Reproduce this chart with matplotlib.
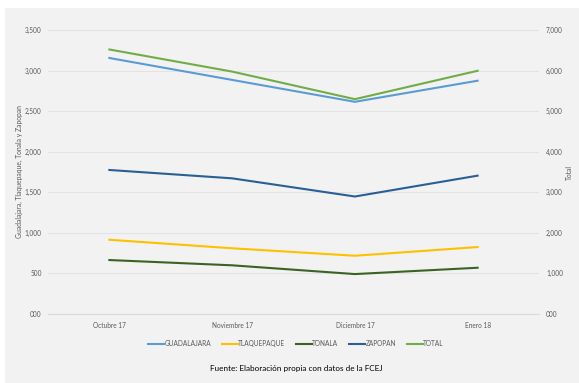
import matplotlib
matplotlib.use("Agg")
import matplotlib.pyplot as plt
from matplotlib.patches import Rectangle
from matplotlib.ticker import FuncFormatter, MultipleLocator

# Datos por municipio (eje izquierdo) y total (eje derecho)
meses = ["Octubre 17", "Noviembre 17", "Diciembre 17", "Enero 18"]
guadalajara = [3155, 2885, 2615, 2875]
tlaquepaque = [915, 810, 718, 825]
tonala = [665, 600, 492, 570]
zapopan = [1775, 1672, 1448, 1705]
total = [6520, 5975, 5295, 5995]

colores = {
    "GUADALAJARA": "#5B9BD5",
    "TLAQUEPAQUE": "#FFC000",
    "TONALA": "#3B6326",
    "ZAPOPAN": "#2A5F96",
    "TOTAL": "#70AD47",
}

plt.rcParams["font.family"] = ["Lato", "DejaVu Sans"]

W, H = 579, 383
fig = plt.figure(figsize=(W / 100, H / 100), dpi=100, facecolor="white")
fig.patches.append(Rectangle((5 / W, 0), 1, (H - 8) / H, transform=fig.transFigure,
                             facecolor="#f2f2f2", edgecolor="none", zorder=-5))

ax = fig.add_axes([48 / W, 69 / H, (539 - 48) / W, (314 - 30) / H])
ax.set_facecolor("none")
ax2 = ax.twinx()

x = range(len(meses))
lw = 1.5
l1, = ax.plot(x, guadalajara, color=colores["GUADALAJARA"], lw=lw, label="GUADALAJARA")
l2, = ax.plot(x, tlaquepaque, color=colores["TLAQUEPAQUE"], lw=lw, label="TLAQUEPAQUE")
l3, = ax.plot(x, tonala, color=colores["TONALA"], lw=lw, label="TONALA")
l4, = ax.plot(x, zapopan, color=colores["ZAPOPAN"], lw=lw, label="ZAPOPAN")
l5, = ax2.plot(x, total, color=colores["TOTAL"], lw=lw, label="TOTAL")

ax.set_xlim(-0.5, len(meses) - 0.5)
ax.set_ylim(0, 3500)
ax2.set_ylim(0, 7000)
ax.yaxis.set_major_locator(MultipleLocator(500))
ax2.yaxis.set_major_locator(MultipleLocator(1000))

fmt = FuncFormatter(lambda v, p: "000" if v == 0 else f"{v:,.0f}")
ax.yaxis.set_major_formatter(fmt)
ax2.yaxis.set_major_formatter(fmt)

ax.set_xticks(list(x))
ax.set_xticklabels(meses)
ax.grid(axis="y", color="#e3e3e3", lw=0.8)
ax.set_axisbelow(True)

for a in (ax, ax2):
    for s in a.spines.values():
        s.set_visible(False)
    a.tick_params(length=0, labelsize=4.7, colors="#595959")
ax.spines["bottom"].set_visible(True)
ax.spines["bottom"].set_color("#d9d9d9")
ax.tick_params(axis="y", pad=4.5)
ax.tick_params(axis="x", pad=5.5)
ax2.tick_params(axis="y", pad=5)

ax.set_ylabel("Guadalajara, Tlaquepaque, Tonala y Zapopan", fontsize=4.9, color="#595959")
ax.yaxis.set_label_coords((23 - 48) / 491, 0.5)
ax2.set_ylabel("Total", fontsize=4.9, color="#595959", rotation=90)
ax2.yaxis.set_label_coords((566 - 48) / 491, 0.5)

fig.legend(handles=[l1, l2, l3, l4, l5], loc="center", bbox_to_anchor=(296 / W, 1 - 343.5 / H),
           ncol=5, frameon=False, fontsize=4.7, handlelength=2.4, handletextpad=0.05,
           columnspacing=1.7, labelcolor="#595959")

fig.text(296 / W, 1 - 369 / H, "Fuente: Elaboración propia con datos de la FCEJ",
         ha="center", va="center", fontsize=5.9, color="black")

fig.savefig("out.png", dpi=100, facecolor=fig.get_facecolor())
